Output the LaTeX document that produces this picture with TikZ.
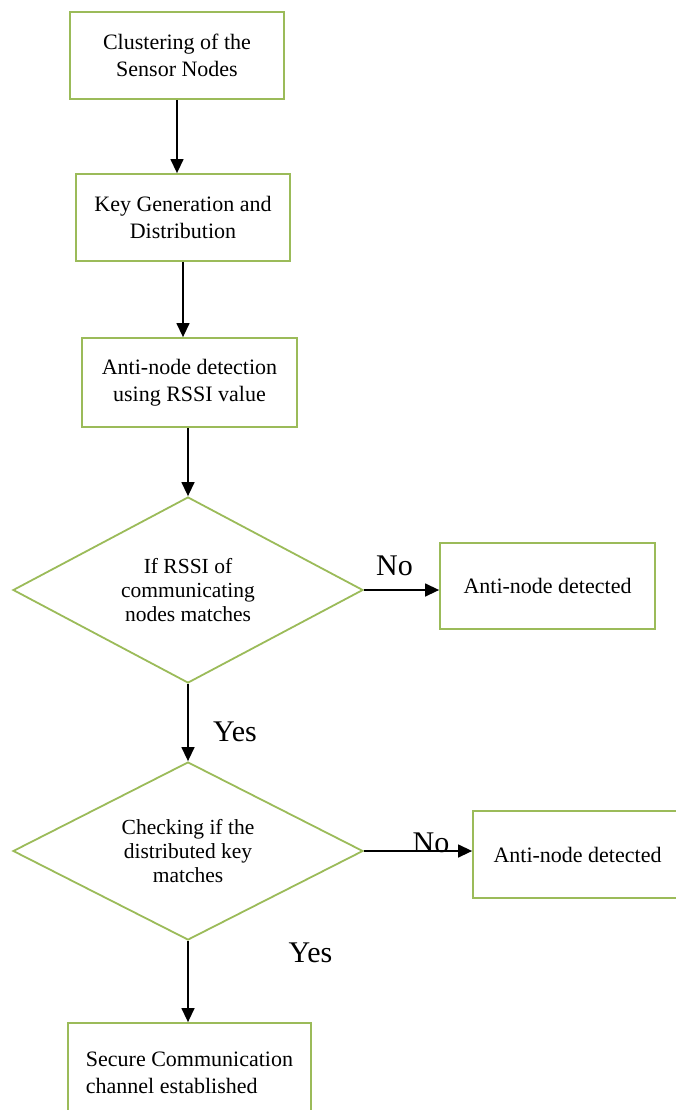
\documentclass[tikz,border=0pt]{standalone}
\usepackage{fontspec}
\setmainfont{Liberation Serif}
\usetikzlibrary{shapes.geometric,arrows.meta}
\definecolor{boxgreen}{RGB}{155,187,89}
\tikzset{
  stepbox/.style={draw=boxgreen, line width=1.8pt, fill=white, inner sep=0pt,
    align=center, font=\fontsize{22}{27}\selectfont},
  decision/.style={diamond, draw=boxgreen, line width=1.8pt, inner sep=0pt,
    aspect=1.88, align=center, font=\fontsize{21.5}{24}\selectfont},
  flow/.style={draw=black, line width=1.4pt, -{Triangle[length=14pt,width=13pt]}},
  answer/.style={font=\fontsize{30}{30}\selectfont, anchor=base, inner sep=0pt}
}
\begin{document}
\begin{tikzpicture}[x=1pt, y=-1pt]
\useasboundingbox (0,0) rectangle (676,1110);
\clip (0,0) rectangle (676,1110);

% process steps
\node[stepbox, minimum width=214pt, minimum height=87pt] (b1) at (177,55.5)
  {Clustering of the\\Sensor Nodes};
\node[stepbox, minimum width=214pt, minimum height=87pt] (b2) at (183,217.5)
  {Key Generation and\\Distribution};
\node[stepbox, minimum width=215pt, minimum height=89pt] (b3) at (189.5,382.5)
  {Anti-node detection\\using RSSI value};

% decisions
\node[decision, minimum width=350pt, minimum height=186pt] (d1) at (188,590)
  {If RSSI of\\communicating\\nodes matches};
\node[decision, minimum width=350pt, minimum height=178pt] (d2) at (188,851)
  {Checking if the\\distributed key\\matches};

% outcomes
\node[stepbox, minimum width=215pt, minimum height=86pt] (n1) at (547.5,586)
  {Anti-node detected};
\node[stepbox, minimum width=209pt, minimum height=87pt] (n2) at (577.5,854.5)
  {Anti-node detected};
\node[stepbox, align=left, minimum width=243pt, minimum height=100pt] (b4) at (189.5,1073)
  {Secure Communication\\channel established};

% connectors
\draw[flow] (b1.south) -- (b1.south |- b2.north);
\draw[flow] (b2.south) -- (b2.south |- b3.north);
\draw[flow] (b3.south -| d1.north) -- (d1.north);
\draw[flow] (d1.east) -- (d1.east -| n1.west);
\draw[flow] (d1.south) -- (d2.north);
\draw[flow] (d2.east) -- (d2.east -| n2.west);
\draw[flow] (d2.south) -- (d2.south |- b4.north);

% branch labels
\node[answer] (no1) at (394.5,575) {No};
\node[answer] (no2) at (431,852) {No};
\node[answer] (yes1) at (235,741) {Yes};
\node[answer] (yes2) at (310.5,962) {Yes};
\end{tikzpicture}
\end{document}
